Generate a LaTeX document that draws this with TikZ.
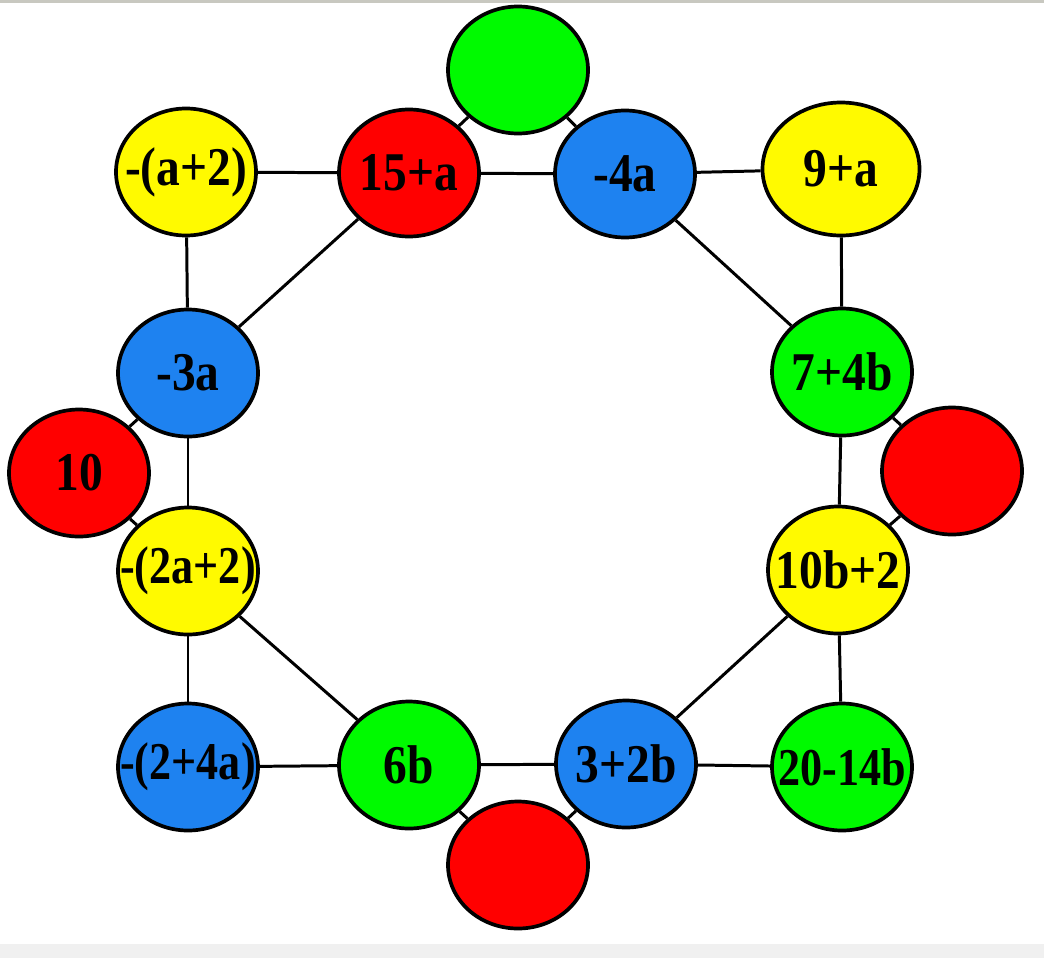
\documentclass[tikz,border=0pt]{standalone}
\usepackage{fontspec}
\setmainfont{Liberation Serif}
\usetikzlibrary{shapes.geometric}
\definecolor{ballred}{RGB}{255,0,0}
\definecolor{ballgreen}{RGB}{0,250,0}
\definecolor{ballblue}{RGB}{30,130,240}
\definecolor{ballyellow}{RGB}{255,250,0}
\definecolor{bandgray}{RGB}{240,240,240}
\definecolor{rulegray}{RGB}{200,200,192}
\newcommand{\lbl}[1]{\makebox[0pt]{\scalebox{1}[1.15]{#1}}}
\newcommand{\lbln}[1]{\makebox[0pt]{\scalebox{0.93}[1.12]{#1}}}

\begin{document}
\begin{tikzpicture}[every node/.style={font=\fontsize{27}{27}\selectfont\bfseries},
	ball/.style={draw, ellipse, line width=2.1pt, minimum width=2.8cm, minimum height=2.54cm, inner sep=0pt},
	link/.style={line width=1.7pt}]
	\useasboundingbox (0,0) rectangle (20.88,-19.16);
	\fill[rulegray] (0,0) rectangle (20.88,-0.05);
	\fill[bandgray] (0,-18.88) rectangle (20.88,-19.16);
	% ring
	\node[ball, fill=ballyellow] (ma2) at (3.72,-3.44) {\lbl{-(a+2)}};
	\node[ball, fill=ballred] (a15) at (8.18,-3.46) {\lbl{15+a}};
	\node[ball, fill=ballblue] (m4a) at (12.50,-3.48) {\lbl{-4a}};
	\node[ball, fill=ballyellow, minimum width=3.14cm, minimum height=2.66cm] (a9) at (16.82,-3.38) {\lbl{9+a}};
	\node[ball, fill=ballblue] (m3a) at (3.76,-7.46) {\lbl{-3a}};
	\node[ball, fill=ballyellow] (m2a2) at (3.76,-11.42) {\lbln{-(2a+2)}};
	\node[ball, fill=ballblue] (m24a) at (3.76,-15.34) {\lbln{-(2+4a)}};
	\node[ball, fill=ballgreen] (b6) at (8.18,-15.30) {\lbl{6b}};
	\node[ball, fill=ballblue] (b32) at (12.52,-15.28) {\lbl{3+2b}};
	\node[ball, fill=ballgreen] (b2014) at (16.84,-15.34) {\lbln{20-14b}};
	\node[ball, fill=ballyellow] (b102) at (16.76,-11.40) {\lbl{10b+2}};
	\node[ball, fill=ballgreen] (b74) at (16.84,-7.44) {\lbl{7+4b}};
	% outer balls
	\node[ball, fill=ballgreen] (top) at (10.36,-1.40) {};
	\node[ball, fill=ballred] (left) at (1.58,-9.46) {\lbl{10}};
	\node[ball, fill=ballred] (right) at (19.04,-9.42) {};
	\node[ball, fill=ballred] (bottom) at (10.36,-17.30) {};
	\foreach \u/\v in {ma2/a15, a15/m4a, m4a/a9, a15/top, top/m4a, ma2/m3a, a15/m3a,
		m3a/left, left/m2a2, m3a/m2a2, m2a2/m24a, m2a2/b6, m24a/b6, b6/b32, b6/bottom,
		bottom/b32, b32/b2014, b32/b102, b2014/b102, b102/b74, b102/right, right/b74,
		b74/a9, b74/m4a} {
		\draw[link] (\u) -- (\v);
	}
\end{tikzpicture}
\end{document}
